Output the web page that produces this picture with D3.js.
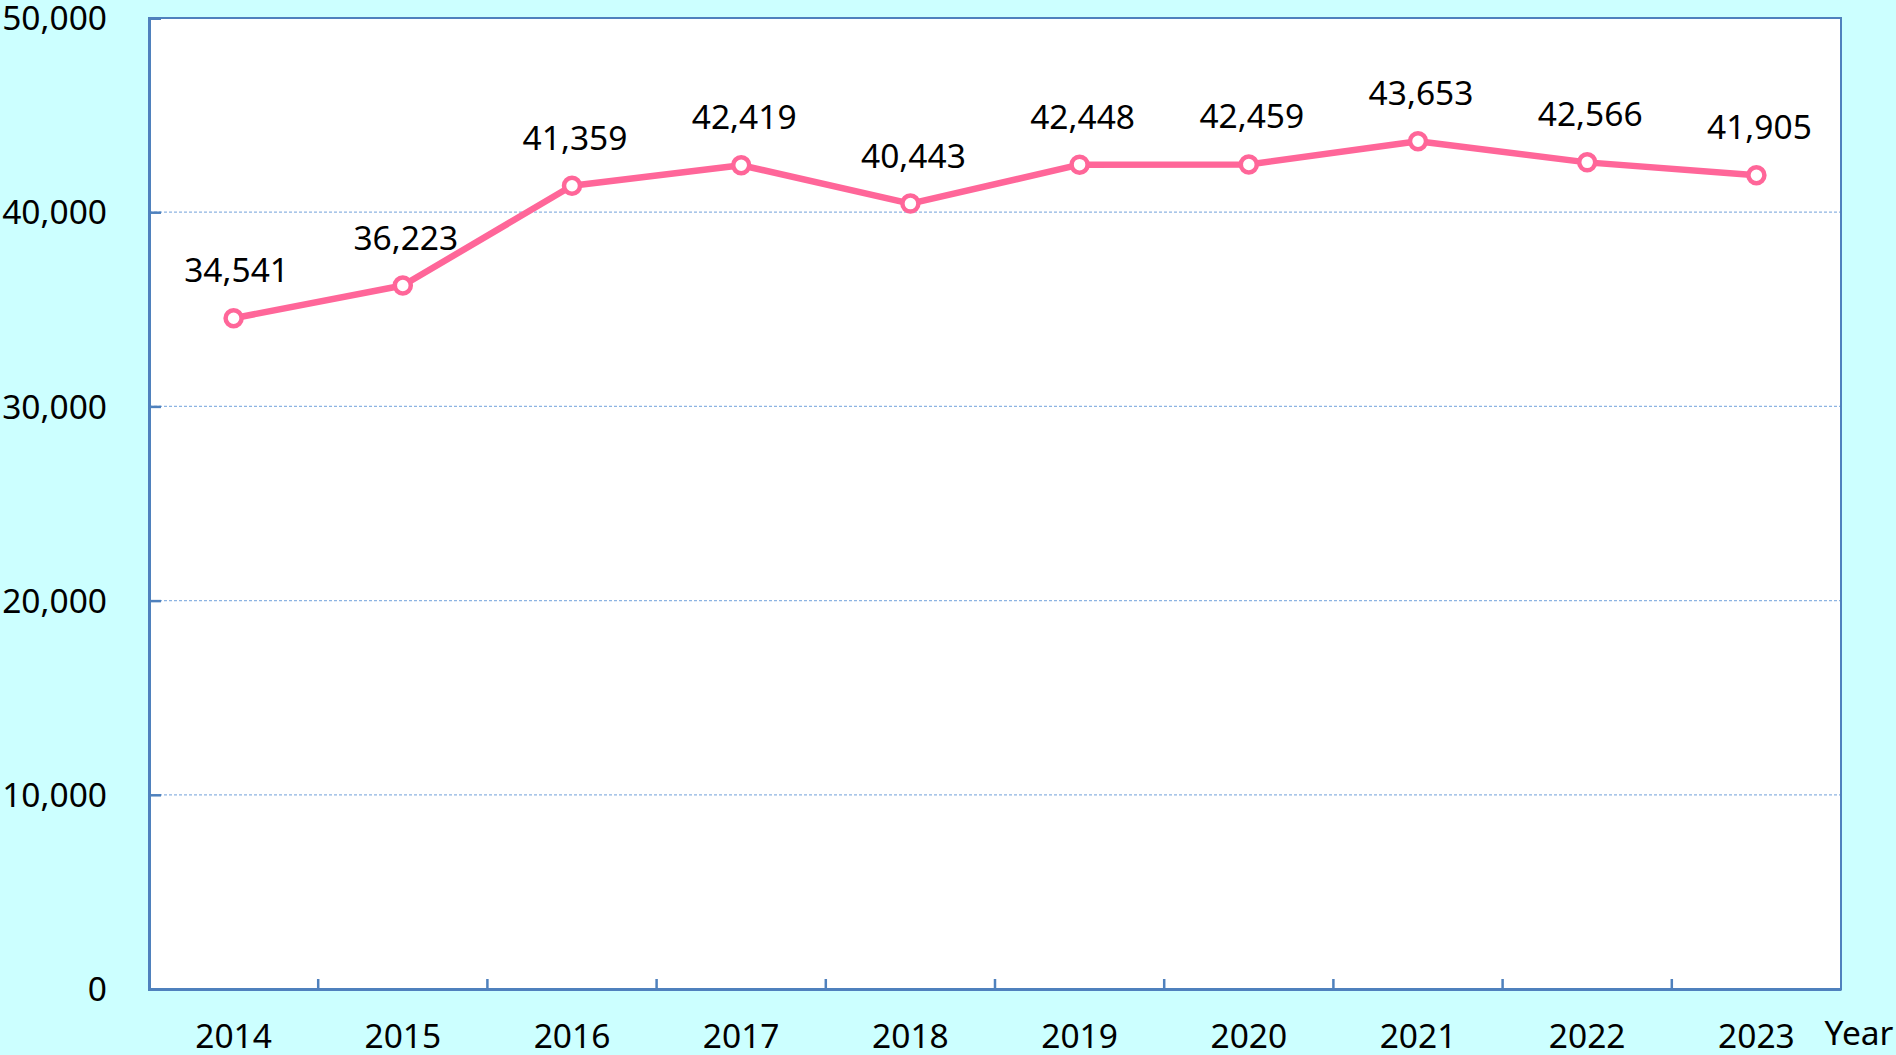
<!DOCTYPE html>
<html>
<head>
<meta charset="utf-8">
<script src="https://cdn.jsdelivr.net/npm/d3@7"></script>
<style>
  html, body { margin: 0; padding: 0; background: #ccffff; }
  svg { display: block; }
  text { font-family: "Noto Sans", "DejaVu Sans", sans-serif; fill: #000; }
</style>
</head>
<body>
<div id="chart"></div>
<script>
// chart data
var years = ["2014", "2015", "2016", "2017", "2018", "2019", "2020", "2021", "2022", "2023"];
var values = [34541, 36223, 41359, 42419, 40443, 42448, 42459, 43653, 42566, 41905];
var yTicks = [0, 10000, 20000, 30000, 40000, 50000];

var width = 1896;
var height = 1055;
var plotLeft = 149, plotRight = 1841, plotTop = 18, plotBottom = 989;
var fontSize = "33.5px";

var svg = d3.select("#chart").append("svg")
  .attr("width", width)
  .attr("height", height);

/* Scales */
var xScale = d3.scaleBand()
  .domain(years)
  .range([plotLeft, plotRight]);

var yScale = d3.scaleLinear()
  .domain([0, 50000])
  .range([plotBottom, plotTop]);

var fmt = d3.format(",");

// plot area
svg.append("rect")
  .attr("x", plotLeft)
  .attr("y", plotTop)
  .attr("width", plotRight - plotLeft)
  .attr("height", plotBottom - plotTop)
  .attr("fill", "#fff");

// grid lines
svg.append("g")
  .selectAll("line")
  .data(yTicks.filter(d => d > 0 && d < 50000))
  .enter().append("line")
  .attr("x1", plotLeft)
  .attr("x2", plotRight)
  .attr("y1", d => yScale(d))
  .attr("y2", d => yScale(d))
  .attr("stroke", "#8db4e2")
  .attr("stroke-width", 1.2)
  .attr("stroke-dasharray", "3,2");

// border (top / right)
svg.append("rect")
  .attr("x", plotLeft)
  .attr("y", plotTop)
  .attr("width", plotRight - plotLeft)
  .attr("height", plotBottom - plotTop)
  .attr("fill", "none")
  .attr("stroke", "#4f81bd")
  .attr("stroke-width", 2);

/* Axes */
var yAxis = d3.axisLeft(yScale)
  .tickValues(yTicks)
  .tickSize(-12)
  .tickPadding(0)
  .tickFormat(fmt);

svg.append("g")
  .attr("class", "y axis")
  .attr("transform", `translate(${plotLeft},0)`)
  .call(yAxis)
  .call(g => g.select(".domain").attr("stroke", "#4f81bd").attr("stroke-width", 3))
  .call(g => g.selectAll(".tick line").attr("stroke", "#4f81bd").attr("stroke-width", 2.5))
  .call(g => g.selectAll(".tick text")
    .attr("x", 107 - plotLeft)
    .attr("dy", "0.35em")
    .style("font-size", fontSize)
    .style("font-family", "'Noto Sans', sans-serif"));

var xAxis = d3.axisBottom(xScale)
  .tickSize(0)
  .tickPadding(0);

svg.append("g")
  .attr("class", "x axis")
  .attr("transform", `translate(0,${plotBottom})`)
  .call(xAxis)
  .call(g => g.select(".domain").attr("stroke", "#4f81bd").attr("stroke-width", 3))
  .call(g => g.selectAll(".tick text")
    .attr("y", 59)
    .attr("dy", 0)
    .style("font-size", fontSize)
    .style("font-family", "'Noto Sans', sans-serif"));

// ticks between the categories
svg.append("g")
  .selectAll("line")
  .data(years.slice(1))
  .enter().append("line")
  .attr("x1", d => xScale(d))
  .attr("x2", d => xScale(d))
  .attr("y1", plotBottom)
  .attr("y2", plotBottom - 10)
  .attr("stroke", "#4f81bd")
  .attr("stroke-width", 2.5);

svg.append("text")
  .attr("x", 1859)
  .attr("y", 1045)
  .attr("text-anchor", "middle")
  .style("font-size", fontSize)
  .text("Year");

/* Line */
var cx = d => xScale(d) + xScale.bandwidth() / 2;

var line = d3.line()
  .x((d, i) => cx(years[i]))
  .y(d => yScale(d));

svg.append("path")
  .datum(values)
  .attr("d", line)
  .attr("fill", "none")
  .attr("stroke", "#ff6699")
  .attr("stroke-width", 6.5)
  .attr("stroke-linejoin", "round");

svg.append("g")
  .selectAll("circle")
  .data(values)
  .enter().append("circle")
  .attr("cx", (d, i) => cx(years[i]))
  .attr("cy", d => yScale(d))
  .attr("r", 8)
  .attr("fill", "#fff")
  .attr("stroke", "#ff6699")
  .attr("stroke-width", 4.5);

// value labels
svg.append("g")
  .selectAll("text")
  .data(values)
  .enter().append("text")
  .attr("x", (d, i) => cx(years[i]) + 3)
  .attr("y", d => yScale(d) - 36)
  .attr("text-anchor", "middle")
  .style("font-size", fontSize)
  .text(d => fmt(d));
</script>
</body>
</html>
